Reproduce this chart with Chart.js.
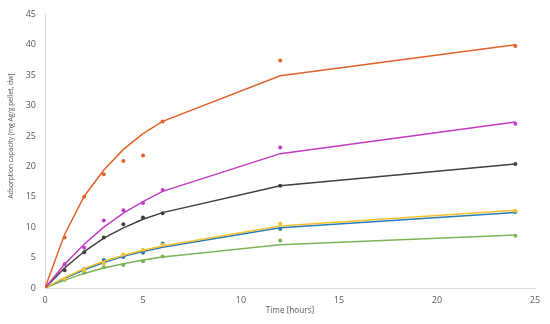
<!DOCTYPE html>
<html>
<head>
<meta charset="utf-8">
<script src="https://cdn.jsdelivr.net/npm/chart.js@4.4.1/dist/chart.umd.min.js"></script>
<style>
  html, body { margin: 0; padding: 0; background: #fff; }
</style>
</head>
<body>
<canvas id="chart" width="550" height="324"></canvas>
<script>
// Tiempos de muestreo (horas)
const tiempos = [0, 1, 2, 3, 4, 5, 6, 12, 24];
const ticksX = [0, 5, 10, 15, 20, 25];
const ticksY = [0, 5, 10, 15, 20, 25, 30, 35, 40, 45];

// Puntos experimentales
const expNaranja = [0, 8.3, 15.0, 18.7, 20.9, 21.8, 27.4, 37.4, 39.8];
const expMagenta = [0, 3.9, 6.6, 11.1, 12.8, 14.0, 16.1, 23.1, 27.0];
const expNegro = [0, 2.9, 5.9, 8.3, 10.5, 11.6, 12.3, 16.8, 20.4];
const expAmarillo = [0, 1.5, 2.9, 4.0, 5.5, 6.3, 7.1, 10.6, 12.7];
const expAzul = [0, 1.5, 3.1, 4.6, 5.1, 5.8, 7.3, 9.7, 12.5];
const expVerde = [0, 1.3, 2.5, 3.4, 3.8, 4.4, 5.2, 7.8, 8.6];

// Curvas del modelo
const modNaranja = [0, 8.8, 15.1, 19.4, 22.8, 25.4, 27.4, 34.9, 40.0];
const modMagenta = [0, 3.9, 7.2, 10.0, 12.3, 14.2, 15.9, 22.1, 27.3];
const modNegro = [0, 3.3, 6.0, 8.2, 9.9, 11.3, 12.4, 16.8, 20.4];
const modAmarillo = [0, 1.7, 3.2, 4.4, 5.4, 6.2, 6.9, 10.2, 12.8];
const modAzul = [0, 1.6, 3.0, 4.2, 5.2, 6.0, 6.7, 9.9, 12.4];
const modVerde = [0, 1.3, 2.4, 3.3, 4.0, 4.6, 5.1, 7.1, 8.7];

const tituloY = 'Adsorption capacity [mg Ag/g pellet, dw]';
const tituloX = 'Time [hours]';

const series = [
  { exp: expNaranja, mod: modNaranja, color: '#E2622B' },
  { exp: expMagenta, mod: modMagenta, color: '#C23CC2' },
  { exp: expNegro, mod: modNegro, color: '#3F3F3F' },
  { exp: expAmarillo, mod: modAmarillo, color: '#F2C230' },
  { exp: expAzul, mod: modAzul, color: '#2A7AB8' },
  { exp: expVerde, mod: modVerde, color: '#7DB356' }
];

const aPuntos = arr => arr.map((v, i) => ({ x: tiempos[i], y: v }));

const datasets = [];
series.forEach(s => {
  datasets.push({
    data: aPuntos(s.mod),
    showLine: true,
    borderColor: s.color,
    borderWidth: 1.5,
    pointRadius: 0,
    tension: 0
  });
  datasets.push({
    data: aPuntos(s.exp),
    showLine: false,
    backgroundColor: s.color,
    borderColor: s.color,
    pointRadius: 2,
    pointBorderWidth: 0
  });
});

const fuente = { family: 'Open Sans', size: 9 };

// Titulo del eje Y dibujado a mano (centrado como en el original)
const tituloEjeY = {
  id: 'tituloEjeY',
  afterDraw(chart) {
    const ctx = chart.ctx;
    ctx.save();
    ctx.translate(11, 136);
    ctx.rotate(-Math.PI / 2);
    ctx.font = '6.7px "Open Sans"';
    ctx.fillStyle = '#595959';
    ctx.textAlign = 'center';
    ctx.textBaseline = 'middle';
    ctx.fillText(tituloY, 0, 0);
    ctx.restore();
  }
};

new Chart(document.getElementById('chart'), {
  type: 'scatter',
  data: { datasets },
  plugins: [tituloEjeY],
  options: {
    responsive: false,
    animation: false,
    layout: { padding: { top: 12, right: 15, left: 0, bottom: 0 } },
    plugins: { legend: { display: false }, tooltip: { enabled: false } },
    scales: {
      x: {
        type: 'linear',
        min: 0,
        max: 25,
        afterBuildTicks: sc => { sc.ticks = ticksX.map(v => ({ value: v })); },
        afterFit: sc => { sc.height = 36; },
        ticks: { color: '#595959', font: fuente, padding: 7 },
        grid: { display: false, drawTicks: false },
        border: { display: true, color: '#D9D9D9', width: 1 },
        title: { display: true, text: tituloX, color: '#595959', font: { family: 'Open Sans', size: 8.2 }, padding: { top: 0, bottom: 8 } }
      },
      y: {
        min: 0,
        max: 45,
        afterBuildTicks: sc => { sc.ticks = ticksY.map(v => ({ value: v })); },
        afterFit: sc => { sc.width = 45; },
        ticks: { color: '#595959', font: fuente, padding: 9 },
        grid: { display: false, drawTicks: false },
        border: { display: true, color: '#D9D9D9', width: 1 }
      }
    }
  }
});
</script>
</body>
</html>
